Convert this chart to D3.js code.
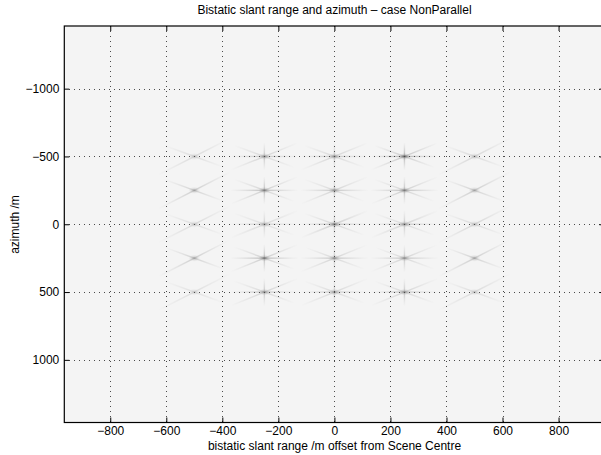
<!DOCTYPE html>
<html><head><meta charset="utf-8">
<script src="https://cdn.jsdelivr.net/npm/d3@7"></script>
<style>
body{margin:0;background:#fff;}
text{font-family:"Liberation Sans",Arial,Helvetica,sans-serif;fill:#000;}
</style></head>
<body>
<svg id="chart" width="601" height="455"></svg>
<script>
// ---- data ----
const title = "Bistatic slant range and azimuth \u2013 case NonParallel";
const xLabel = "bistatic slant range /m offset from Scene Centre";
const yLabel = "azimuth /m";
const xDomain = [-964, 964];
const yDomain = [-1462, 1462];
const xTicks = [-800, -600, -400, -200, 0, 200, 400, 600, 800];
const yTicks = [-1000, -500, 0, 500, 1000];
const rangeTargets = [-500, -250, 0, 250, 500];
const azimuthTargets = [-500, -250, 0, 250, 500];
// relative peak brightness per target [azimuth row][range column]
const peakIntensity = [
  [0.35, 0.60, 0.60, 0.85, 0.40],
  [0.50, 0.70, 0.60, 0.70, 0.50],
  [0.35, 0.50, 0.70, 0.60, 0.40],
  [0.50, 0.75, 0.60, 0.60, 0.50],
  [0.30, 0.60, 0.55, 0.60, 0.35]
];

// ---- layout ----
const FS = 12;
const svg = d3.select("#chart");
const x = d3.scaleLinear().domain(xDomain).range([64.3, 604.5]);
const y = d3.scaleLinear().domain(yDomain).range([26, 422.5]);
const [x0, x1] = x.range(), [y0, y1] = y.range();

const defs = svg.append("defs");
const lg = defs.append("linearGradient").attr("id", "streak");
lg.append("stop").attr("offset", "0").attr("stop-color", "#888").attr("stop-opacity", 0);
lg.append("stop").attr("offset", "0.5").attr("stop-color", "#555").attr("stop-opacity", 0.85);
lg.append("stop").attr("offset", "1").attr("stop-color", "#888").attr("stop-opacity", 0);
const rg = defs.append("radialGradient").attr("id", "blob");
rg.append("stop").attr("offset", "0").attr("stop-color", "#333").attr("stop-opacity", 1);
rg.append("stop").attr("offset", "0.5").attr("stop-color", "#777").attr("stop-opacity", 0.45);
rg.append("stop").attr("offset", "1").attr("stop-color", "#aaa").attr("stop-opacity", 0);
defs.append("clipPath").attr("id", "clip").append("rect")
  .attr("x", x0).attr("y", y0).attr("width", x1 - x0).attr("height", y1 - y0);

// background
svg.append("rect").attr("x", x0).attr("y", y0).attr("width", x1 - x0).attr("height", y1 - y0)
  .attr("fill", "#f4f4f4");

// streak shape per range column: [angle deg, half length px, relative strength]
function streaksFor(ci) {
  const r = rangeTargets[ci];
  if (Math.abs(r) >= 500) return [[-27, 40, 0.55], [20, 32, 0.5]];
  return [[0, 34, 0.55], [90, 14, 0.55], [-22, 36, 0.4], [20, 32, 0.35]];
}

const img = svg.append("g").attr("clip-path", "url(#clip)");
const targets = [];
azimuthTargets.forEach((a, ri) => rangeTargets.forEach((r, ci) =>
  targets.push({r, a, ci, v: peakIntensity[ri][ci]})));
const tg = img.selectAll("g.t").data(targets).join("g")
  .attr("class", "t")
  .attr("transform", d => `translate(${x(d.r)},${y(d.a)})`)
  .attr("opacity", d => d.v);
tg.each(function(d) {
  const g = d3.select(this);
  streaksFor(d.ci).forEach(([ang, L, s]) => {
    g.append("rect").attr("x", -L).attr("y", -0.7).attr("width", 2 * L).attr("height", 1.4)
      .attr("fill", "url(#streak)").attr("opacity", s)
      .attr("transform", `rotate(${ang})`);
  });
  g.append("ellipse").attr("rx", 6).attr("ry", 3.5).attr("fill", "url(#blob)").attr("opacity", 0.75);
});

// grid
const grid = svg.append("g").attr("stroke", "#4a4a4a").attr("stroke-width", 1)
  .attr("stroke-dasharray", "1,4").attr("shape-rendering", "crispEdges");
grid.selectAll("line.gx").data(xTicks).join("line")
  .attr("x1", d => Math.round(x(d)) + 0.5).attr("x2", d => Math.round(x(d)) + 0.5)
  .attr("y1", y0).attr("y2", y1);
grid.selectAll("line.gy").data(yTicks).join("line")
  .attr("y1", d => Math.round(y(d)) + 0.5).attr("y2", d => Math.round(y(d)) + 0.5)
  .attr("x1", x0).attr("x2", x1);

// axes (inward ticks)
const fmt = d => d < 0 ? "\u2212" + Math.abs(d) : String(d);
const axB = svg.append("g").attr("transform", `translate(0,${y1})`)
  .call(d3.axisBottom(x).tickValues(xTicks).tickFormat(fmt).tickSizeInner(-5).tickSizeOuter(0).tickPadding(4));
const axT = svg.append("g").attr("transform", `translate(0,${y0})`)
  .call(d3.axisTop(x).tickValues(xTicks).tickFormat("").tickSizeInner(-5).tickSizeOuter(0));
const axL = svg.append("g").attr("transform", `translate(${x0},0)`)
  .call(d3.axisLeft(y).tickValues(yTicks).tickFormat(fmt).tickSizeInner(-5).tickSizeOuter(0).tickPadding(4));
const axR = svg.append("g").attr("transform", `translate(${x1},0)`)
  .call(d3.axisRight(y).tickValues(yTicks).tickFormat("").tickSizeInner(-5).tickSizeOuter(0));
[axB, axT, axL, axR].forEach(a => {
  a.select(".domain").remove();
  a.selectAll("text").attr("font-size", FS).attr("font-family", "Liberation Sans, Arial, sans-serif");
  a.selectAll("line").attr("stroke", "#000");
});
axL.selectAll("text").attr("dx", "-1");
svg.append("rect").attr("x", x0).attr("y", y0).attr("width", x1 - x0).attr("height", y1 - y0)
  .attr("fill", "none").attr("stroke", "#000").attr("stroke-width", 1.2);

// labels
svg.append("text").attr("x", 334.5).attr("y", 14).attr("text-anchor", "middle")
  .attr("font-size", FS).text(title);
svg.append("text").attr("x", 334.5).attr("y", 450).attr("text-anchor", "middle")
  .attr("font-size", FS).text(xLabel);
svg.append("text").attr("transform", "translate(19,224.5) rotate(-90)").attr("text-anchor", "middle")
  .attr("font-size", FS).text(yLabel);
</script>
</body></html>
